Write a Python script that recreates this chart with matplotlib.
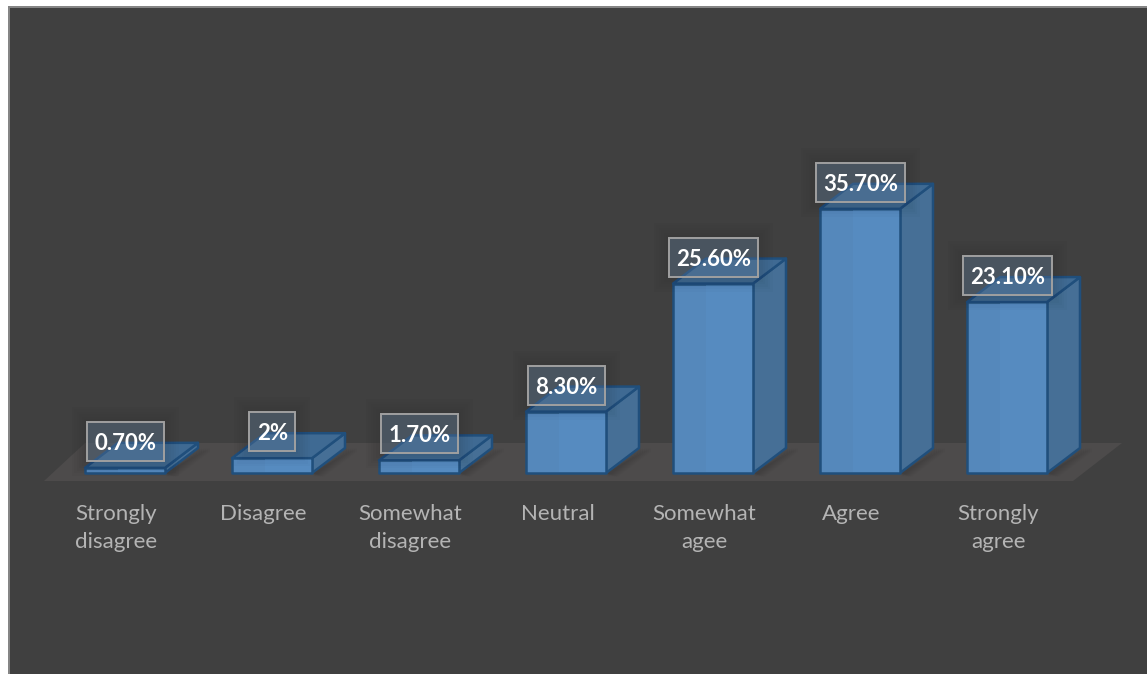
import matplotlib
matplotlib.use("Agg")
import matplotlib.pyplot as plt
from matplotlib.patches import Polygon, Rectangle

categories = ["Strongly\ndisagree", "Disagree", "Somewhat\ndisagree", "Neutral",
              "Somewhat\nagee", "Agree", "Strongly\nagree"]
values = [0.7, 2, 1.7, 8.3, 25.6, 35.7, 23.1]
value_labels = ["0.70%", "2%", "1.70%", "8.30%", "25.60%", "35.70%", "23.10%"]

W, H = 1147, 674
SPACING = 147.0          # pixels between neighbouring categories
UNIT = 7.4               # pixels per percentage point
X0, Y0 = 125.0, 473.0    # pixel position of the first category on the baseline
DX = 33 / SPACING        # horizontal depth of the 3D boxes
DY = 25 / UNIT           # vertical depth of the 3D boxes
HALF = 40 / SPACING      # half of a bar's width

plt.rcParams["font.family"] = ["Lato", "DejaVu Sans"]
fig = plt.figure(figsize=(W / 100, H / 100), dpi=100, facecolor="white")
ax = fig.add_axes([0, 0, 1, 1])
ax.set_xlim(-X0 / SPACING, (W - X0) / SPACING)
ax.set_ylim(-(H - Y0) / UNIT, Y0 / UNIT)
ax.axis("off")


def px(x):
    return (x - X0) / SPACING


def py(y):
    return (Y0 - y) / UNIT


# Panel with a light edge on its top and left sides
ax.add_patch(Rectangle((px(8), py(H)), (W - 8) / SPACING, (H - 6) / UNIT,
                       fc="#858585", ec="none", zorder=0))
ax.add_patch(Rectangle((px(10), py(H)), (W - 10) / SPACING, (H - 8) / UNIT,
                       fc="#404040", ec="none", zorder=0.1))

# Floor of the 3D chart
ax.add_patch(Polygon([(px(44), py(481)), (px(1073), py(481)),
                      (px(1122), py(443)), (px(85), py(443))],
                     fc="#4d4b4b", ec="none", zorder=1))

FRONT, SIDE, TOP, EDGE = "#5588bb", "#466f96", "#3f6a93", "#204f7c"

for i, (v, cat) in enumerate(zip(values, categories)):
    # soft shadow falling on the floor beside the bar
    for k in range(6):
        grow = (6 - k) * 2 / SPACING
        ax.add_patch(Polygon([(i + HALF, 0), (i + HALF + DX + grow, DY),
                              (i + HALF + DX + grow, DY - 0.5),
                              (i + HALF + grow, -0.5)],
                             fc="black", alpha=0.015, ec="none", zorder=1.5))
    front = Rectangle((i - HALF, 0), 2 * HALF, v, fc=FRONT, ec=EDGE, lw=1.8,
                      zorder=3, joinstyle="round")
    side = Polygon([(i + HALF, 0), (i + HALF + DX, DY), (i + HALF + DX, v + DY),
                    (i + HALF, v)], fc=SIDE, ec=EDGE, lw=1.8, zorder=2.5,
                   joinstyle="round")
    top = Polygon([(i - HALF, v), (i + HALF, v), (i + HALF + DX, v + DY),
                   (i - HALF + DX, v + DY)], fc=TOP, ec=EDGE, lw=1.8, zorder=2.6,
                  joinstyle="round")
    ax.add_patch(side)
    ax.add_patch(top)
    ax.add_patch(front)
    # faint lighter band running down the front face
    ax.add_patch(Rectangle((i - HALF + 33 / SPACING, 1 / UNIT), 46 / SPACING,
                           max(v - 2 / UNIT, 0), fc="#5b93cc", alpha=0.3,
                           ec="none", zorder=3.1))
    # Category labels sit slightly left of their bars
    ax.annotate(cat, (i, 0), xytext=(-6.2, -22.5), textcoords="offset points",
                ha="center", va="top", fontsize=16, color="#b4b4b4",
                linespacing=1.48, zorder=4)

# half widths of the boxed value labels, keyed by label length
BOX_HALF = {2: 23, 5: 38.5, 6: 44.5}

# Boxed value labels floating above each bar
for i, (v, lab) in enumerate(zip(values, value_labels)):
    cx = i + 0.5 / SPACING
    cy = v + 26.5 / UNIT
    half_w = BOX_HALF[len(lab)] / SPACING
    half_h = 19.5 / UNIT
    # diffuse shadow around the box
    for k in range(6):
        g = (6 - k) * 2.5
        ax.add_patch(Rectangle((cx - half_w - g / SPACING, cy - half_h - g / UNIT),
                               2 * half_w + 2 * g / SPACING, 2 * half_h + 2 * g / UNIT,
                               fc="black", alpha=0.016, ec="none", zorder=4.5))
    ax.add_patch(Rectangle((cx - half_w, cy - half_h), 2 * half_w, 2 * half_h,
                           fc="#6f93b8", alpha=0.3, ec="none", zorder=5))
    ax.add_patch(Rectangle((cx - half_w, cy - half_h), 2 * half_w, 2 * half_h,
                           fc="none", ec="#a0a0a0", lw=1.4, zorder=5.5))
    ax.text(cx, cy, lab, ha="center", va="center_baseline", fontsize=16,
            fontweight="bold", color="white", zorder=6)

fig.savefig("out.png", dpi=100, facecolor=fig.get_facecolor())
